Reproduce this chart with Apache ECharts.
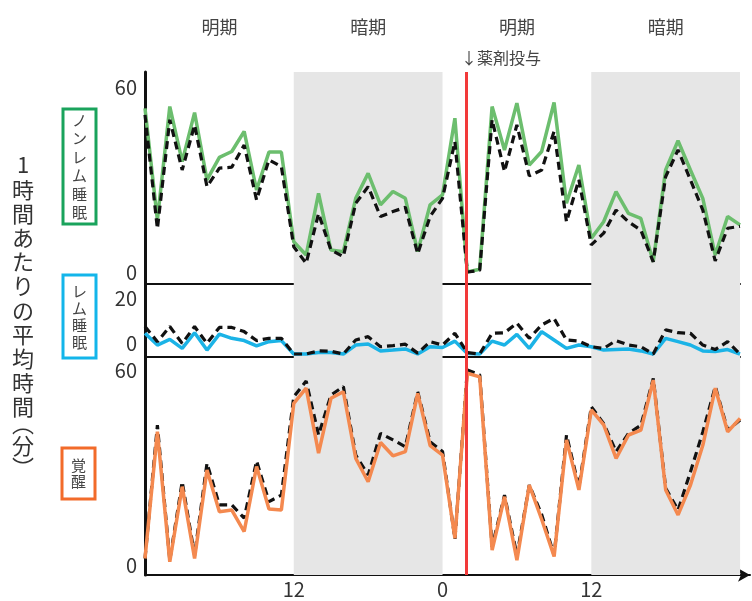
<!DOCTYPE html>
<html><head><meta charset="utf-8">
<script src="https://cdn.jsdelivr.net/npm/echarts@6/dist/echarts.min.js"></script>
<style>html,body{margin:0;padding:0;background:#fff}#c{width:752px;height:601px}</style>
</head><body><div id="c"></div>
<script>
const hours = [0,1,2,3,4,5,6,7,8,9,10,11,12,13,14,15,16,17,18,19,20,21,22,23,24,25,26,27,28,29,30,31,32,33,34,35,36,37,38,39,40,41,42,43,44,45,46,47,48];
const nremColor = [53.1,16.9,53.7,35.8,51.7,29.9,37.2,39.1,45.6,26.6,38.9,38.9,9.8,5.5,25.5,7.1,6.6,23.9,32,21.8,26.1,23.9,6.6,21.8,25,49.9,0,0.9,53.7,39.6,54.8,34.7,39.1,55,22.3,34.7,10.9,16.3,26.1,19,17.4,3.3,33.1,42.6,33.1,23.9,5.5,18,15.3];
const nremDash  = [51,14,49.4,33.1,47.7,27.7,33.7,34,41.2,23.4,36.4,34.2,8.2,2.8,19,7.1,5,22.3,27.7,18,19.6,21,5.9,18,23.9,42.3,0,0.5,49.4,32.6,47.7,31.2,33.1,45.6,16.3,29.9,8.8,12.6,20.1,16.3,13.6,3.3,30.9,39.6,29.9,20.1,3.6,14.2,14.8];
const remColor  = [7.4,3.2,5.2,2,7.6,1.4,7.1,5.6,4.8,2.9,4.4,4.8,0,0,0.5,0.5,0,3.2,3.6,1.1,1.4,1.8,0,2.6,2.3,4.6,0.2,0,4.6,3.2,7,2,8,5,2,3.2,2.6,1.4,1.6,1.8,1.1,0,5.6,4.4,3.2,1.1,0.9,1.6,0];
const remDash   = [9.8,4.4,9.8,3.8,9.8,3.8,9.5,9.5,8,4.8,5.6,5.6,0,0,1.1,1,0,5,6.2,2.6,3,3.5,0.3,4.4,3.2,7.4,0.5,0,7.4,7.6,11,5.6,10.4,12.7,5,4.6,2.6,2,4.8,3.2,2.6,0,8.6,7.6,7.4,3.2,1.6,4.4,0];
const wakeColor = [2,41,1,24.1,2,29.2,16.4,16.9,10.3,30.3,17.2,16.9,49.7,54.4,34.4,51.3,53.3,32.8,25.6,37.7,33.6,34.9,52.8,36.7,33.8,8.2,59,57.9,4.6,21,1.5,24.6,14,2.6,38.5,23.1,47.7,43.1,32.8,40,41.5,56.9,23.1,15.4,24.6,36.9,54.4,41,45.1];
const wakeDash  = [2,43,1.5,25.6,3,31.3,18.5,18.5,14.4,32,19.5,21.5,51.8,56.6,40,52.3,54.9,33.8,27.7,40.5,38.5,36.4,53.3,37.9,34.9,8,60,58.5,5.6,21.5,3,24.6,15.5,3,40,24,48.7,43.5,34.9,40.5,43,57.4,23.6,16.9,28.7,41,54.9,41.5,44.6];
const darkPeriods = [[12,24],[36,48]];
const drugHour = 25.9;
const xTickValues = [12,24,36];
const xTickLabels = ['12','0','12'];
const periodLabels = ['明期','暗期','明期','暗期'];
const periodCenters = [6,18,30,42];
const panelNames = ['ノンレム睡眠','レム睡眠','覚醒'];

const FONT = 'Noto Sans CJK JP';
const pair = arr => hours.map((h,i)=>[h,arr[i]]);
const chart = echarts.init(document.getElementById('c'));

const grids = [
  {left:145, right:12, top:72, height:212},
  {left:145, right:12, top:284, height:73},
  {left:145, right:2, top:357, height:218}
];
const yRanges = [[-3.9,64.9],[-1.07,25],[-3.08,64]];
const yLabels = [[0,60],[0,20],[0,60]];

const xAxes = grids.map((g,i)=>({
  type:'value', gridIndex:i, min:0, max: i===2 ? 48.8 : 48,
  splitLine:{show:false}, axisTick:{show:false},
  axisLine:{show:true, onZero:false, lineStyle:{color:'#111', width:2},
    symbol: i===2 ? ['none','arrow'] : ['none','none'], symbolSize:[10,12]},
  axisLabel: i===2 ? {show:true, customValues:xTickValues, fontSize:20, color:'#333', fontFamily:FONT, margin:4,
     formatter: v => xTickLabels[xTickValues.indexOf(v)] || ''} : {show:false}
}));
const yAxes = grids.map((g,i)=>({
  type:'value', gridIndex:i, min:yRanges[i][0], max:yRanges[i][1],
  splitLine:{show:false}, axisTick:{show:false},
  axisLine:{show:true, onZero:false, lineStyle:{color:'#111', width:3}},
  axisLabel:{show:true, customValues:yLabels[i], fontSize:20, color:'#333', fontFamily:FONT, margin:8,
    formatter: v => (i===1 && v===0) ? '{lo|0}' : String(v),
    rich:{lo:{fontSize:20, color:'#333', fontFamily:FONT, padding:[0,0,22,0]}}}
}));

const shade = {silent:true, itemStyle:{color:'#e6e6e6'},
  data: darkPeriods.map(p=>[{xAxis:p[0]},{xAxis:p[1]}])};
const redLine = {silent:true, symbol:['none','none'], label:{show:false},
  lineStyle:{color:'#f23a3a', width:3, type:'solid'}, data:[{xAxis:drugHour}]};

function colored(i, data, color, z){
  return {type:'line', xAxisIndex:i, yAxisIndex:i, data:pair(data), symbol:'none', z:z,
    lineStyle:{color:color, width:3.5}, markArea: shade, animation:false};
}
function dashed(i, data, z){
  return {type:'line', xAxisIndex:i, yAxisIndex:i, data:pair(data), symbol:'none', z:z,
    lineStyle:{color:'#111', width:3.2, type:[8,5]}, animation:false};
}
const series = [
  colored(0, nremColor, '#6cbe6e', 2), Object.assign(dashed(0, nremDash, 3), {markLine:redLine}),
  colored(1, remColor, '#1bb3e6', 2), Object.assign(dashed(1, remDash, 3), {markLine:redLine}),
  Object.assign(dashed(2, wakeDash, 2), {markArea:shade}), Object.assign(colored(2, wakeColor, '#f4894f', 3), {markArea:null, markLine:redLine})
];

const txt = (t, x, y, opt) => ({type:'text', x, y, style:Object.assign({text:t, fill:'#444', fontSize:16, fontFamily:FONT, textAlign:'center', textVerticalAlign:'middle'}, opt||{})});
const xPix = h => 145 + h*(595/48);
const graphics = [];
periodLabels.forEach((p,i)=>graphics.push(txt(p, xPix(periodCenters[i]), 27, {fontSize:18})));
graphics.push(txt('↓薬剤投与', 461, 58, {fontSize:16, textAlign:'left'}));
graphics.push(txt('1\n時\n間\nあ\nた\nり\nの\n平\n均\n時\n間', 23, 153 + 11*24.2/2, {fontSize:22, lineHeight:24.2, fill:'#333'}));
graphics.push(txt('︵\n分\n︶', 23, 446, {fontSize:22, lineHeight:22, fill:'#333'}));
const boxes = [
  {x:63, y:109, w:33, h:115, c:'#1aa35c', lh:18.5},
  {x:63, y:275, w:33, h:83, c:'#13b5ea', lh:17},
  {x:62, y:448, w:33, h:51, c:'#f26b2a', lh:16.5}
];
boxes.forEach((b,i)=>{
  graphics.push({type:'rect', shape:{x:b.x, y:b.y, width:b.w, height:b.h}, style:{fill:'#fff', stroke:b.c, lineWidth:3}});
  graphics.push(txt(panelNames[i].split('').join('\n'), b.x + b.w/2, b.y + b.h/2, {fontSize:15, lineHeight:b.lh, fill:'#444'}));
});

chart.setOption({
  animation:false,
  grid: grids,
  xAxis: xAxes,
  yAxis: yAxes,
  series: series,
  graphic: graphics
});
</script></body></html>
